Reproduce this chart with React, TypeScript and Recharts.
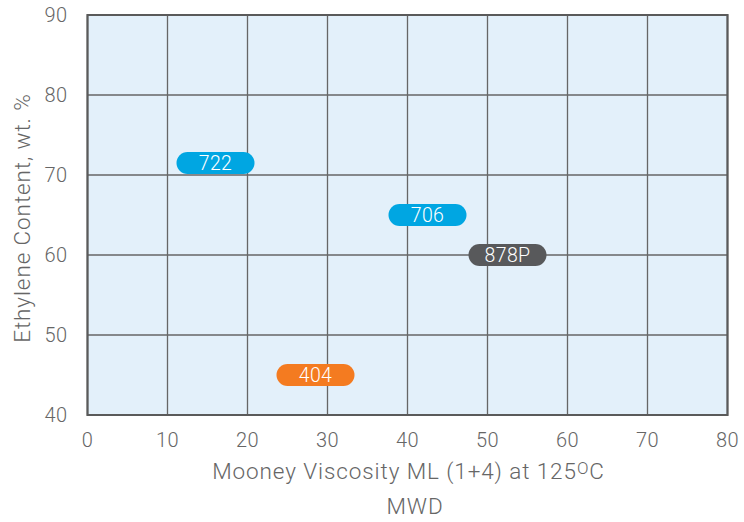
import React from 'react';
import { ScatterChart, Scatter, XAxis, YAxis, CartesianGrid, ReferenceArea } from 'recharts';

const grades = ['722', '706', '878P', '404'];
const mooney = [16, 42.5, 52.5, 28.5];
const ethylene = [71.5, 65, 60, 45];
const colors = ['#00a6e2', '#00a6e2', '#58595b', '#f47b20'];
const xTicks = [0, 10, 20, 30, 40, 50, 60, 70, 80];
const yTicks = [40, 50, 60, 70, 80, 90];

const data = grades.map((g, i) => ({ name: g, x: mooney[i], y: ethylene[i], color: colors[i] }));

const FONT = 'Roboto, "Liberation Sans", sans-serif';
const TEXT = '#666666';

const Pill = (props: any) => {
  const { cx, cy, payload } = props;
  const w = 78;
  const h = 22;
  return (
    <g>
      <rect x={cx - w / 2} y={cy - h / 2} width={w} height={h} rx={11} ry={11} fill={payload.color} />
      <text x={cx} y={cy + 7} textAnchor="middle" fill="#ffffff" fontSize={19.5} fontFamily={FONT} fontWeight={300} letterSpacing={0.4}>
        {payload.name}
      </text>
    </g>
  );
};

const XLabel = (props: any) => {
  const { viewBox } = props;
  const cx = viewBox.x + viewBox.width / 2;
  return (
    <g fontFamily={FONT} fontWeight={300} fill={TEXT}>
      <text x={cx + 1} y={478.5} textAnchor="middle" fontSize={22.5} letterSpacing={0.9} fill={TEXT}>
        Mooney Viscosity ML (1+4) at 125
        <tspan fontSize={17} dy={-5}>O</tspan>
        <tspan dy={5}>C</tspan>
      </text>
      <text x={415} y={514} textAnchor="middle" fontSize={22.5} letterSpacing={0.9} fill={TEXT}>
        MWD
      </text>
    </g>
  );
};

const YLabel = () => (
  <text
    x={30}
    y={218}
    transform="rotate(-90 30 218)"
    textAnchor="middle"
    fontSize={22.5}
    letterSpacing={0.9}
    fontFamily={FONT}
    fontWeight={300}
    fill={TEXT}
  >
    Ethylene Content, wt. %
  </text>
);

const tickStyle = { fontSize: 20, fill: TEXT, fontFamily: FONT, fontWeight: 300, letterSpacing: 0.4 };

export default function App() {
  return (
    <div style={{ position: 'absolute', left: 0, top: 0, width: 744, height: 522, background: '#ffffff' }}>
      <ScatterChart width={744} height={522} margin={{ top: 15, right: 16.5, bottom: 0, left: 0 }}>
        <CartesianGrid stroke="#666666" strokeWidth={1.3} fill="#e3f0fa" fillOpacity={1} />
        <XAxis
          type="number"
          dataKey="x"
          domain={[0, 80]}
          ticks={xTicks}
          height={107}
          axisLine={false}
          tickLine={false}
          tickMargin={12}
          tick={tickStyle}
          label={{ content: XLabel }}
        />
        <YAxis
          type="number"
          dataKey="y"
          domain={[40, 90]}
          ticks={yTicks}
          width={87.5}
          axisLine={false}
          tickLine={false}
          tickMargin={14}
          tick={tickStyle}
          label={{ content: YLabel }}
        />
        <ReferenceArea x1={0} x2={80} y1={40} y2={90} fill="none" fillOpacity={0} stroke="#5a5a5a" strokeWidth={2.2} ifOverflow="visible" />
        <Scatter data={data} shape={Pill} isAnimationActive={false} />
      </ScatterChart>
    </div>
  );
}
